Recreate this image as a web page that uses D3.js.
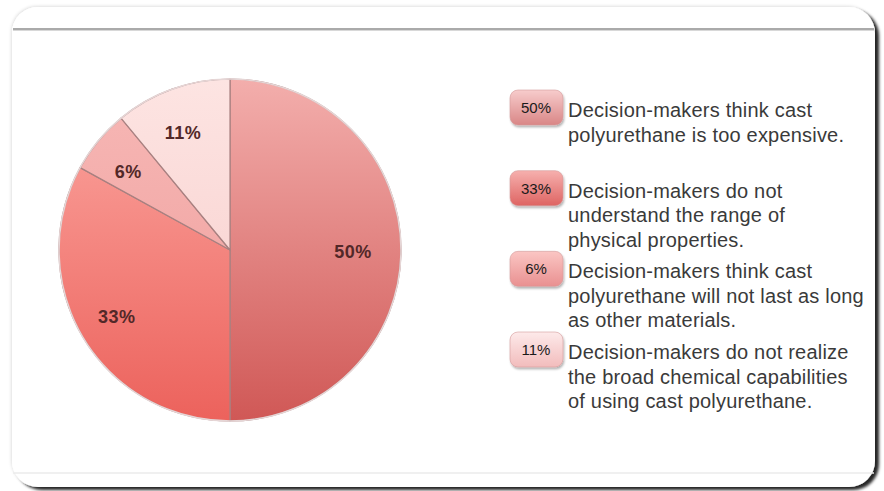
<!DOCTYPE html>
<html>
<head>
<meta charset="utf-8">
<script src="https://cdnjs.cloudflare.com/ajax/libs/d3/7.8.5/d3.min.js"></script>
<style>
	body{
	    margin:0;
	    background-color: white;
	}
	svg text{
	    font-family: "Liberation Sans", Arial, sans-serif;
	}
</style>
</head>
<body>
<svg id="chart" width="884" height="491"></svg>
<script>
	// data
	var percents = [50, 33, 6, 11];
	var sliceLabels = ["50%", "33%", "6%", "11%"];
	var descriptions = [
		["Decision-makers think cast", "polyurethane is too expensive."],
		["Decision-makers do not", "understand the range of", "physical properties."],
		["Decision-makers think cast", "polyurethane will not last as long", "as other materials."],
		["Decision-makers do not realize", "the broad chemical capabilities", "of using cast polyurethane."]
	];

	// colours: [top, bottom] of each slice and of each legend badge
	var sliceColors = [["#f3aeac", "#d05856"], ["#fca8a2", "#ec625c"], ["#f7b8b6", "#ee9c9a"], ["#fde4e2", "#f7ccca"]];
	var badgeColors = [["#f7cccc", "#d98686"], ["#f6b0ae", "#de6462"], ["#fbc6c4", "#e99090"], ["#fdeaea", "#f2bcbc"]];

	var svg = d3.select("#chart");
	var defs = svg.append("defs");

	///////////////	 FRAME 	//////////////////
	var shadow = defs.append("filter").attr("id", "frameShadow")
		.attr("x", "-5%").attr("y", "-5%").attr("width", "110%").attr("height", "110%");
	shadow.append("feDropShadow")
		.attr("dx", 4).attr("dy", 3).attr("stdDeviation", 1.6)
		.attr("flood-color", "#000").attr("flood-opacity", 0.85);

	var soft = defs.append("filter").attr("id", "softShadow")
		.attr("x", "-5%").attr("y", "-5%").attr("width", "110%").attr("height", "110%");
	soft.append("feDropShadow")
		.attr("dx", -1).attr("dy", -1).attr("stdDeviation", 1.5)
		.attr("flood-color", "#000").attr("flood-opacity", 0.12);

	svg.append("rect")
		.attr("x", 12).attr("y", 7)
		.attr("width", 863).attr("height", 480)
		.attr("rx", 26).attr("ry", 26)
		.attr("fill", "white")
		.attr("filter", "url(#softShadow)");
	svg.append("rect")
		.attr("x", 12).attr("y", 7)
		.attr("width", 863).attr("height", 480)
		.attr("rx", 26).attr("ry", 26)
		.attr("fill", "white")
		.attr("filter", "url(#frameShadow)");

	svg.append("line")
		.attr("x1", 13).attr("x2", 874)
		.attr("y1", 29).attr("y2", 29)
		.attr("stroke", "#8e8e8e").attr("stroke-width", 1.6);
	svg.append("line")
		.attr("x1", 13).attr("x2", 874)
		.attr("y1", 30.5).attr("y2", 30.5)
		.attr("stroke", "#d8d8d8").attr("stroke-width", 1);
	svg.append("line")
		.attr("x1", 13).attr("x2", 874)
		.attr("y1", 473).attr("y2", 473)
		.attr("stroke", "#ebebeb").attr("stroke-width", 1.5);

	///////////////	 PIE 	//////////////////
	var cx = 230, cy = 250, radius = 171;

	sliceColors.forEach(function(c, i){
		var g = defs.append("linearGradient")
			.attr("id", "slice" + i)
			.attr("gradientUnits", "userSpaceOnUse")
			.attr("x1", 0).attr("y1", -radius)
			.attr("x2", 0).attr("y2", radius);
		g.append("stop").attr("offset", "0%").attr("stop-color", c[0]);
		g.append("stop").attr("offset", "100%").attr("stop-color", c[1]);
	});

	var pie = d3.pie().sort(null).value(function(d){ return d; });
	var arc = d3.arc().innerRadius(0).outerRadius(radius);
	var labelArc = d3.arc().innerRadius(127).outerRadius(127);

	var pieG = svg.append("g")
		.attr("transform", "translate(" + cx + "," + cy + ")");

	var arcs = pie(percents);

	pieG.selectAll(".slice")
		.data(arcs)
		.enter()
		.append("path")
		.attr("class", "slice")
		.attr("d", arc)
		.attr("fill", function(d, i){ return "url(#slice" + i + ")"; })
		.attr("stroke", "#a88080")
		.attr("stroke-width", 1.2)
		.attr("stroke-linejoin", "round");

	// soft outer rim
	pieG.append("circle")
		.attr("r", radius)
		.attr("fill", "none")
		.attr("stroke", "#e6d6d6")
		.attr("stroke-width", 1.5);

	pieG.selectAll(".sliceLabel")
		.data(arcs)
		.enter()
		.append("text")
		.attr("class", "sliceLabel")
		.attr("transform", function(d){
			var p = labelArc.centroid(d);
			return "translate(" + (p[0] - 4) + "," + (p[1] + 2) + ")";
		})
		.attr("dy", "0.36em")
		.attr("text-anchor", "middle")
		.style("font-size", "18px")
		.style("font-weight", "bold")
		.style("letter-spacing", "0.5px")
		.style("fill", "#522828")
		.text(function(d, i){ return sliceLabels[i]; });

	///////////////	 LEGEND 	//////////////////
	var legendY = d3.scaleLinear().domain([0, 3]).range([117, 359]);
	var lineHeight = 24.5;

	badgeColors.forEach(function(c, i){
		var g = defs.append("linearGradient")
			.attr("id", "badge" + i)
			.attr("x1", 0).attr("y1", 0)
			.attr("x2", 0).attr("y2", 1);
		g.append("stop").attr("offset", "0%").attr("stop-color", c[0]);
		g.append("stop").attr("offset", "100%").attr("stop-color", c[1]);
	});

	var badgeShadow = defs.append("filter").attr("id", "badgeShadow")
		.attr("x", "-20%").attr("y", "-20%").attr("width", "140%").attr("height", "150%");
	badgeShadow.append("feDropShadow")
		.attr("dx", 1).attr("dy", 2).attr("stdDeviation", 1.2)
		.attr("flood-color", "#000").attr("flood-opacity", 0.3);

	var items = svg.selectAll(".legendItem")
		.data(percents)
		.enter()
		.append("g")
		.attr("class", "legendItem")
		.attr("transform", function(d, i){ return "translate(0," + legendY(i) + ")"; });

	items.append("rect")
		.attr("x", 510).attr("y", -27)
		.attr("width", 53).attr("height", 35)
		.attr("rx", 8).attr("ry", 8)
		.attr("fill", function(d, i){ return "url(#badge" + i + ")"; })
		.attr("stroke", "#d49a9a")
		.attr("stroke-width", 0.6)
		.attr("filter", "url(#badgeShadow)");

	items.append("text")
		.attr("x", 536).attr("y", -4)
		.attr("text-anchor", "middle")
		.style("font-size", "15px")
		.style("fill", "#1a1a1a")
		.text(function(d, i){ return sliceLabels[i]; });

	items.each(function(d, i){
		var t = d3.select(this).append("text")
			.attr("x", 568).attr("y", 0)
			.style("font-size", "20px")
			.style("letter-spacing", "0.2px")
			.style("fill", "#3a3a3a");
		t.selectAll("tspan")
			.data(descriptions[i])
			.enter()
			.append("tspan")
			.attr("x", 568)
			.attr("dy", function(line, j){ return j == 0 ? 0 : lineHeight; })
			.text(function(line){ return line; });
	});
</script>
</body>
</html>
